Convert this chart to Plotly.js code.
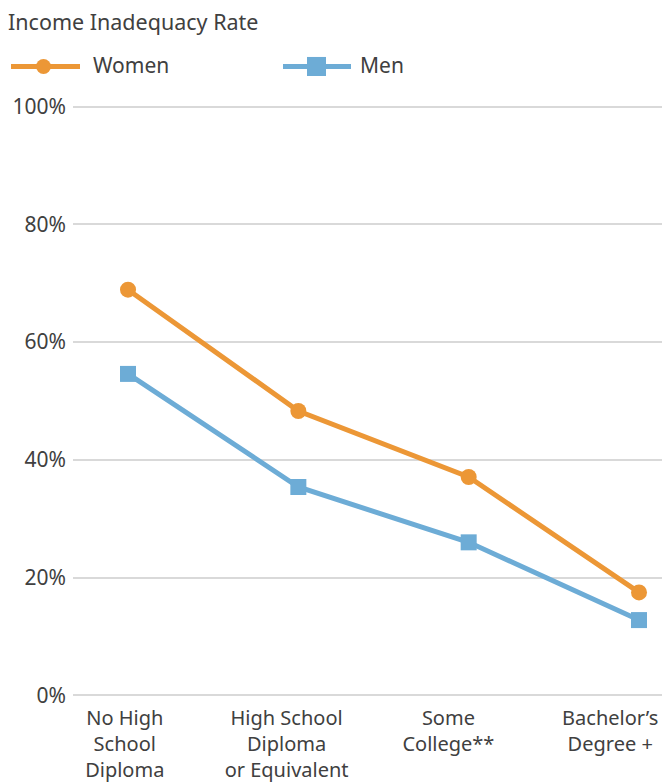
<!DOCTYPE html>
<html>
<head>
<meta charset="utf-8">
<script src="https://cdn.plot.ly/plotly-3.0.1.min.js"></script>
<style>html,body{margin:0;padding:0;background:#fff;}#chart{width:663px;height:782px;}</style>
</head>
<body>
<div id="chart"></div>
<script>
const categories = ["No High<br>School<br>Diploma", "High School<br>Diploma<br>or Equivalent", "Some<br>College**", "Bachelor’s<br>Degree +"];
const women = [68.9, 48.3, 37.1, 17.5];
const men = [54.6, 35.4, 26.0, 12.8];
const yTicks = [0, 20, 40, 60, 80, 100];
const yTickText = ["0%", "20%", "40%", "60%", "80%", "100%"];

const orange = "#EC9736";
const blue = "#6DACD6";
const FONT = "'Noto Sans', sans-serif";
const TXT = "#404040";

// plot area in pixels (y range padded slightly so 0% and 100% grid lines show)
const L = 73, R = 662;
const Y0 = 695, Y100 = 107;
const pxPer = (Y0 - Y100) / 100;
const YMIN = -0.6, YMAX = 100.6;
const T = Y100 - (YMAX - 100) * pxPer, B = Y0 + (0 - YMIN) * pxPer;
const px = x => (x - L) / (R - L);
const py = y => (B - y) / (B - T);

const catIdx = categories.map((c, i) => i);

const traces = [
  {x: catIdx, y: women, type: "scatter", mode: "lines+markers", name: "Women",
   line: {color: orange, width: 5}, marker: {symbol: "circle", size: 16, color: orange}},
  {x: catIdx, y: men, type: "scatter", mode: "lines+markers", name: "Men",
   line: {color: blue, width: 5}, marker: {symbol: "square", size: 16, color: blue}},
  // invisible carrier trace so the category label axis (x2) is drawn
  {x: catIdx, y: women, xaxis: "x2", type: "scatter", mode: "markers", marker: {opacity: 0, size: 1},
   hoverinfo: "skip", showlegend: false}
];

const shapes = [
  {type: "line", xref: "paper", yref: "paper", x0: px(11), x1: px(80), y0: py(67), y1: py(67), line: {color: orange, width: 5}},
  {type: "circle", xref: "paper", yref: "paper", x0: px(36), x1: px(51), y0: py(59.5), y1: py(74.5), fillcolor: orange, line: {width: 0}},
  {type: "line", xref: "paper", yref: "paper", x0: px(283), x1: px(351), y0: py(67), y1: py(67), line: {color: blue, width: 5}},
  {type: "rect", xref: "paper", yref: "paper", x0: px(307), x1: px(326), y0: py(57.5), y1: py(76.5), fillcolor: blue, line: {width: 0}}
];

const annotations = [
  {xref: "paper", yref: "paper", x: px(91), y: py(66), xanchor: "left", yanchor: "middle", showarrow: false,
   text: "Women", font: {family: FONT, size: 21, color: TXT}},
  {xref: "paper", yref: "paper", x: px(358), y: py(66), xanchor: "left", yanchor: "middle", showarrow: false,
   text: "Men", font: {family: FONT, size: 21, color: TXT}}
];

const layout = {
  width: 663, height: 782,
  margin: {l: L, r: 663 - R, t: T, b: 782 - B},
  paper_bgcolor: "#fff", plot_bgcolor: "#fff",
  showlegend: false,
  font: {family: FONT, color: TXT},
  title: {text: "Income Inadequacy Rate", xref: "container", yref: "container", x: 8/663, xanchor: "left",
          y: 1 - 22/782, yanchor: "middle", font: {family: FONT, size: 21.5, color: TXT}},
  xaxis: {range: [-0.323, 3.135], showgrid: false, zeroline: false, showline: false,
          showticklabels: false, ticks: "", fixedrange: true},
  xaxis2: {overlaying: "x", anchor: "y", side: "bottom", range: [-0.32, 3.32],
           tickvals: catIdx, ticktext: categories, showgrid: false, zeroline: false, showline: false,
           ticks: "", ticklabelstandoff: 5, tickfont: {family: FONT, size: 20, color: TXT}, fixedrange: true},
  yaxis: {range: [YMIN, YMAX], tickvals: yTicks, ticktext: yTickText, showgrid: true, gridcolor: "#D9D9D9", gridwidth: 2,
          zeroline: false, showline: false, ticks: "", ticklabelstandoff: 6,
          tickfont: {family: FONT, size: 21, color: TXT}, fixedrange: true},
  shapes: shapes,
  annotations: annotations
};

Plotly.newPlot("chart", traces, layout, {displayModeBar: false, staticPlot: true});
</script>
</body>
</html>
